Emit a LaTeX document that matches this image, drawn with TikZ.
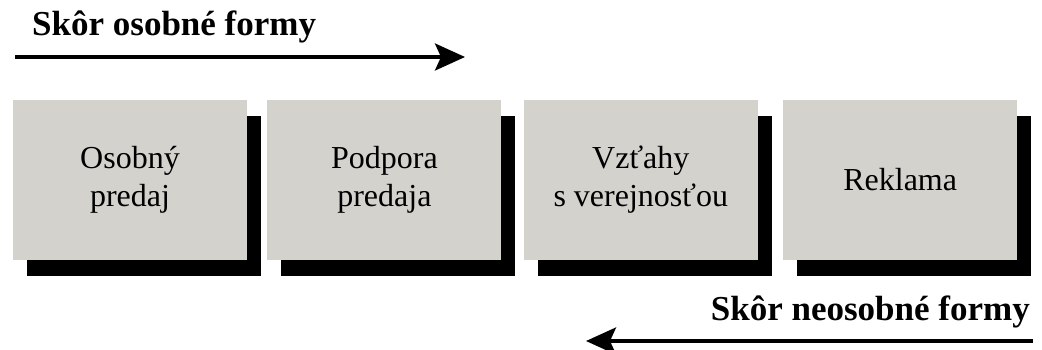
\documentclass[tikz,border=0pt]{standalone}
\usepackage{fontspec}
\setmainfont{Liberation Serif}
\usetikzlibrary{positioning,shadows,arrows.meta}
\definecolor{boxgray}{RGB}{212,210,205}
\begin{document}
\begin{tikzpicture}[x=1pt,y=-1pt,
  formbox/.style={fill=boxgray, minimum width=234pt, minimum height=160pt, inner sep=0pt,
    align=center, font=\fontsize{32}{38}\selectfont,
    drop shadow={shadow xshift=14pt, shadow yshift=-16pt, fill=black, opacity=1}},
  formtitle/.style={inner sep=0pt, font=\bfseries\fontsize{35}{40}\selectfont},
  formarrow/.style={line width=3.5pt, -{Stealth[length=30pt, width=27pt, inset=6pt]}}]
\useasboundingbox (0,0) rectangle (1042,349);
\node[formtitle, anchor=base west] (tosobne) at (32,35){Skôr osobné formy};
\coordinate (a1s) at (15,57);
\coordinate (a1e) at (465,57);
\draw[formarrow](a1s) -- (a1e);
\node[formbox] (predaj) at (130,180){Osobný\\predaj};
\node[formbox, right=20pt of predaj] (podpora){Podpora\\predaja};
\node[formbox, right=22pt of podpora] (vztahy){Vzťahy\\s verejnosťou};
\node[formbox, right=25pt of vztahy] (reklama){Reklama};
\node[formtitle, anchor=base east] (tneosobne) at (1030,320){Skôr neosobné formy};
\coordinate (a2s) at (1033,341);
\coordinate (a2e) at (586,341);
\draw[formarrow](a2s) -- (a2e);
\end{tikzpicture}
\end{document}
